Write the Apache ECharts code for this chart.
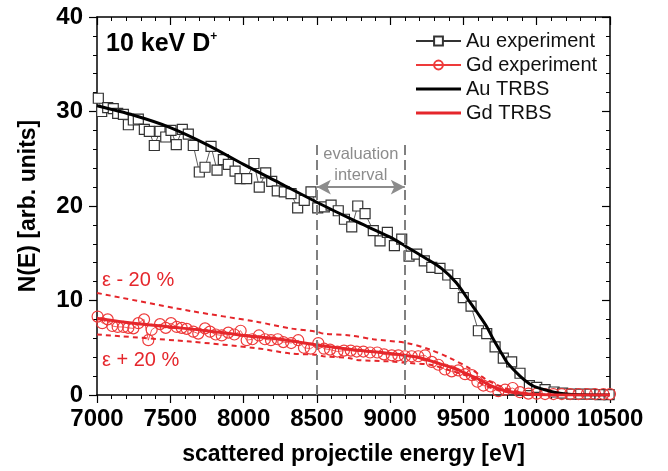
<!DOCTYPE html>
<html>
<head>
<meta charset="utf-8">
<script src="https://cdn.jsdelivr.net/npm/echarts@6/dist/echarts.min.js"></script>
<style>
  html, body { margin: 0; padding: 0; background: #fff; }
  #main { width: 668px; height: 471px; }
</style>
</head>
<body>
<div id="main"></div>
<script>
// Au experiment (squares)
var auExpE = [7009, 7032, 7073, 7111, 7141, 7180, 7214, 7248, 7282, 7323, 7357, 7391, 7430, 7469, 7505,
  7541, 7582, 7623, 7657, 7698, 7737, 7778, 7819, 7862, 7896, 7942, 7976, 8021, 8071, 8107, 8151, 8192,
  8230, 8278, 8324, 8369, 8414, 8460, 8506, 8551, 8597, 8646, 8688, 8738, 8779, 8829, 8885, 8931, 8981,
  9029, 9079, 9129, 9181, 9233, 9284, 9340, 9393, 9443, 9499, 9552, 9602, 9659, 9716, 9772, 9829, 9886,
  9950, 10000, 10057, 10118, 10177, 10239, 10300, 10364, 10432, 10494];
var auExpN = [31.4, 30.0, 30.4, 30.3, 29.8, 29.7, 28.6, 29.1, 29.2, 28.1, 27.9, 26.4, 27.9, 27.3, 28.0,
  26.5, 28.1, 27.6, 26.4, 23.6, 24.1, 26.3, 23.8, 24.9, 24.4, 23.7, 22.9, 22.9, 24.5, 22.0, 23.5, 22.6,
  21.6, 21.5, 21.3, 19.8, 20.6, 21.5, 19.8, 19.9, 20.1, 19.5, 18.6, 17.8, 20.0, 19.2, 17.4, 16.3, 17.2,
  15.8, 16.5, 14.7, 14.9, 14.2, 13.5, 13.4, 12.7, 11.8, 10.3, 9.4, 6.8, 6.5, 5.1, 3.9, 3.5, 2.3,
  1.0, 0.8, 0.56, 0.32, 0.2, 0.1, 0.1, 0.1, 0.05, 0.05];

// Gd experiment (circles)
var gdExpE = [7004, 7036, 7073, 7104, 7141, 7180, 7214, 7248, 7282, 7321, 7350, 7373, 7430, 7469, 7505,
  7544, 7578, 7612, 7657, 7691, 7737, 7771, 7810, 7851, 7896, 7937, 7980, 8021, 8060, 8105, 8146, 8187,
  8233, 8271, 8325, 8373, 8412, 8458, 8510, 8549, 8590, 8640, 8685, 8731, 8772, 8817, 8863, 8912, 8958,
  9011, 9056, 9101, 9147, 9192, 9238, 9284, 9329, 9374, 9420, 9465, 9511, 9557, 9595, 9636, 9686, 9738,
  9784, 9836, 9886, 9943, 10000, 10057, 10114, 10171, 10228, 10285, 10342, 10398, 10455, 10500];
var gdExpN = [8.3, 7.6, 8.0, 7.3, 7.2, 7.2, 7.1, 7.05, 7.6, 8.0, 5.8, 6.9, 7.5, 7.1, 7.6,
  7.2, 7.1, 7.0, 6.7, 6.5, 7.05, 6.7, 6.4, 6.3, 6.6, 6.4, 6.8, 5.8, 5.9, 6.3, 5.9, 5.8,
  5.9, 5.6, 5.5, 5.8, 5.0, 4.9, 5.5, 4.9, 4.8, 4.6, 4.7, 4.7, 4.6, 4.6, 4.5, 4.5, 4.3,
  4.2, 4.2, 4.1, 4.1, 4.1, 4.2, 3.5, 3.2, 2.7, 2.5, 2.6, 2.2, 2.1, 1.4, 1.0, 0.9, 0.4,
  0.56, 0.74, 0.3, 0.15, 0.14, 0.1, 0.1, 0.1, 0.1, 0.1, 0.1, 0.1, 0.1, 0.1];

// TRBS simulations
var auTrbsE = [7000, 7250, 7500, 7750, 8000, 8250, 8500, 8750, 9000, 9100, 9250, 9350, 9450, 9550,
  9600, 9660, 9700, 9772, 9800, 9886, 9950, 10000, 10118, 10200, 10300, 10500];
var auTrbsN = [30.6, 29.6, 28.3, 26.5, 24.4, 22.4, 20.4, 18.5, 16.7, 15.8, 14.4, 13.4, 11.9, 9.7,
  8.6, 7.2, 6.0, 4.1, 3.4, 2.0, 1.2, 0.8, 0.3, 0.1, 0.03, 0.0];
var gdTrbsE = [7000, 7250, 7500, 7750, 8000, 8250, 8500, 8750, 9000, 9100, 9200, 9300, 9400, 9450, 9500,
  9550, 9600, 9659, 9700, 9772, 9886, 10000, 10200, 10500];
var gdTrbsN = [8.1, 7.6, 7.2, 6.8, 6.3, 5.9, 5.3, 4.8, 4.4, 4.2, 3.95, 3.5, 3.0, 2.75, 2.4,
  2.05, 1.7, 1.2, 0.9, 0.5, 0.2, 0.05, 0.0, 0.0];

// stopping power +/- 20 % variants
var epsMinusE = [7000, 7635, 8090, 8317, 8499, 8544, 8726, 8885, 9113, 9272, 9409, 9545, 9613, 9659,
  9772, 9886, 10000, 10200, 10500];
var epsMinusN = [10.8, 8.9, 7.75, 7.05, 6.7, 6.5, 6.3, 5.9, 5.5, 4.8, 3.9, 2.8, 2.1, 1.6,
  0.8, 0.3, 0.08, 0.0, 0.0];
var epsPlusE = [7000, 7635, 8090, 8317, 8499, 8544, 8726, 8772, 9000, 9113, 9272, 9409, 9545, 9613,
  9659, 9772, 9886, 10000, 10500];
var epsPlusN = [6.4, 5.65, 4.95, 4.4, 4.25, 4.1, 3.9, 3.7, 3.55, 3.4, 3.2, 2.6, 1.9, 1.3,
  0.9, 0.4, 0.1, 0.02, 0.0];

// evaluation interval
var evalBounds = [8500, 9100];
var evalTop = 26.5;
var arrowY = 22;

var xTicks = [7000, 10500, 500];
var yTicks = [0, 40, 10];

function pairs(xs, ys) {
  return xs.map(function (x, i) { return [x, ys[i]]; });
}

var red = '#e5262b';
var font = '"Liberation Sans", Arial, Helvetica, sans-serif';
var lineIcon = 'path://M0,0 L30,0 L30,2 L0,2 Z';

var myChart = echarts.init(document.getElementById('main'));

function axisBase(pos, showLabel, inside) {
  return {
    type: 'value',
    position: pos,
    splitLine: { show: false },
    axisLine: { show: true, onZero: false, lineStyle: { color: '#000', width: 1.5 } },
    axisTick: { show: true, inside: inside, length: 8, lineStyle: { color: '#000', width: 1.2 } },
    minorTick: { show: true, splitNumber: 5, length: 4, lineStyle: { color: '#000', width: 1 } },
    axisLabel: {
      show: showLabel,
      formatter: function (v) { return String(v); },
      fontFamily: font,
      fontWeight: 'bold',
      fontSize: 24,
      color: '#000'
    }
  };
}

var xBottom = axisBase('bottom', true, false);
xBottom.min = xTicks[0]; xBottom.max = xTicks[1]; xBottom.interval = xTicks[2];
xBottom.axisLabel.margin = 12;
xBottom.name = 'scattered projectile energy [eV]';
xBottom.nameLocation = 'middle';
xBottom.nameGap = 48;
xBottom.nameTextStyle = { fontFamily: font, fontWeight: 'bold', fontSize: 23, color: '#000' };

var xTop = axisBase('top', false, true);
xTop.min = xTicks[0]; xTop.max = xTicks[1]; xTop.interval = xTicks[2];

var yLeft = axisBase('left', true, false);
yLeft.min = yTicks[0]; yLeft.max = yTicks[1]; yLeft.interval = yTicks[2];
yLeft.axisLabel.margin = 14;
yLeft.name = 'N(E) [arb. units]';
yLeft.nameLocation = 'middle';
yLeft.nameGap = 57;
yLeft.nameTextStyle = { fontFamily: font, fontWeight: 'bold', fontSize: 23, color: '#000' };

var yRight = axisBase('right', false, true);
yRight.min = yTicks[0]; yRight.max = yTicks[1]; yRight.interval = yTicks[2];

var option = {
  animation: false,
  backgroundColor: '#fff',
  textStyle: { fontFamily: font },
  grid: { left: 97, right: 58, top: 17, bottom: 74, containLabel: false },
  xAxis: [xBottom, xTop],
  yAxis: [yLeft, yRight],
  legend: {
    orient: 'vertical',
    left: 410,
    top: 26,
    itemWidth: 45,
    itemHeight: 11,
    itemGap: 4,
    data: [
      { name: 'Au experiment' },
      { name: 'Gd experiment' },
      { name: 'Au TRBS', icon: lineIcon, itemStyle: { color: '#000' } },
      { name: 'Gd TRBS', icon: lineIcon, itemStyle: { color: red } }
    ],
    textStyle: { fontFamily: font, fontSize: 20, color: '#111' }
  },
  graphic: [{
    type: 'text',
    left: 106,
    top: 31,
    style: {
      text: '{a|10 keV D}{s|+}',
      rich: {
        a: { fontFamily: font, fontWeight: 'bold', fontSize: 25, fill: '#000' },
        s: { fontFamily: font, fontWeight: 'bold', fontSize: 12, fill: '#000', padding: [0, 0, 14, 0] }
      }
    }
  }],
  series: [
    {
      name: 'Au experiment',
      type: 'line',
      data: pairs(auExpE, auExpN),
      symbol: 'rect',
      symbolSize: 10,
      itemStyle: { color: '#fff', borderColor: '#333', borderWidth: 1.2 },
      lineStyle: { color: '#333', width: 0.8 },
      z: 2
    },
    {
      name: 'Gd experiment',
      type: 'line',
      data: pairs(gdExpE, gdExpN),
      symbol: 'circle',
      symbolSize: 11,
      itemStyle: { color: 'rgba(255,255,255,0)', borderColor: '#ee3a3a', borderWidth: 1.2 },
      lineStyle: { color: '#ee3a3a', width: 0.8 },
      z: 2
    },
    {
      name: 'Au TRBS',
      type: 'line',
      data: pairs(auTrbsE, auTrbsN),
      smooth: 0.3,
      symbol: 'none',
      itemStyle: { color: '#000' },
      lineStyle: { color: '#000', width: 3 },
      z: 3
    },
    {
      name: 'Gd TRBS',
      type: 'line',
      data: pairs(gdTrbsE, gdTrbsN),
      smooth: 0.3,
      symbol: 'none',
      itemStyle: { color: red },
      lineStyle: { color: red, width: 3 },
      z: 3
    },
    {
      name: 'eps minus',
      type: 'line',
      data: pairs(epsMinusE, epsMinusN),
      smooth: 0.3,
      symbol: 'none',
      lineStyle: { color: red, width: 2, type: [5, 4] },
      z: 3,
      markPoint: {
        silent: true,
        symbol: 'circle',
        symbolSize: 0,
        data: [{ coord: [7020, 12.1] }],
        label: { show: true, position: 'right', distance: 2, formatter: 'ε - 20 %',
          fontFamily: font, fontSize: 20, color: red }
      }
    },
    {
      name: 'eps plus',
      type: 'line',
      data: pairs(epsPlusE, epsPlusN),
      smooth: 0.3,
      symbol: 'none',
      lineStyle: { color: red, width: 2, type: [5, 4] },
      z: 3,
      markPoint: {
        silent: true,
        symbol: 'circle',
        symbolSize: 0,
        data: [{ coord: [7020, 3.7] }],
        label: { show: true, position: 'right', distance: 2, formatter: 'ε + 20 %',
          fontFamily: font, fontSize: 20, color: red }
      }
    },
    {
      name: 'evaluation',
      type: 'line',
      data: [],
      markLine: {
        silent: true,
        animation: false,
        lineStyle: { color: '#808080', width: 2, type: [10, 5] },
        label: { show: false },
        data: [
          [{ coord: [evalBounds[0], 0], symbol: 'none' }, { coord: [evalBounds[0], evalTop], symbol: 'none' }],
          [{ coord: [evalBounds[1], 0], symbol: 'none' }, { coord: [evalBounds[1], evalTop], symbol: 'none' }],
          [{ coord: [evalBounds[0], arrowY], symbol: 'arrow', symbolSize: [11, 14],
             lineStyle: { type: 'solid', color: '#8c8c8c', width: 2 },
             label: { show: true, position: 'insideMiddleTop', distance: 1,
               formatter: 'evaluation\ninterval', color: '#8c8c8c',
               fontFamily: font, fontSize: 16.5, lineHeight: 21, align: 'center' } },
           { coord: [evalBounds[1], arrowY], symbol: 'arrow', symbolSize: [11, 14] }]
        ]
      }
    }
  ]
};

myChart.setOption(option);
</script>
</body>
</html>
